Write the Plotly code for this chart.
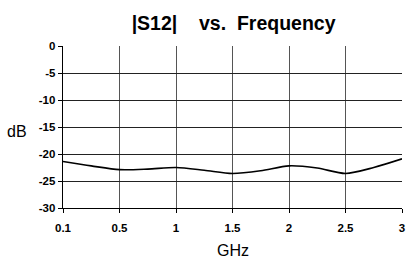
import plotly.graph_objects as go

freq_labels = ["0.1", "0.3", "0.5", "0.75", "1", "1.25", "1.5", "1.75", "2", "2.25", "2.5", "2.75", "3"]
s12_db = [-21.4, -22.2, -22.9, -22.8, -22.5, -23.0, -23.6, -23.1, -22.2, -22.6, -23.6, -22.5, -20.9]
x_tick_labels = ["0.1", "0.5", "1", "1.5", "2", "2.5", "3"]
y_ticks = [0, -5, -10, -15, -20, -25, -30]

font = "Liberation Sans, Arial, sans-serif"
title_text = "<b>|S12|\u00a0\u00a0\u00a0 vs.\u00a0 Frequency</b>"

fig = go.Figure()
fig.add_trace(go.Scatter(
    x=freq_labels, y=s12_db, mode="lines",
    line=dict(color="black", width=1.6, shape="spline", smoothing=0.8),
    showlegend=False, hoverinfo="skip",
))

fig.update_layout(
    width=408, height=260,
    margin=dict(l=63, r=6, t=46, b=52, autoexpand=False),
    paper_bgcolor="white", plot_bgcolor="white",
    font=dict(family=font, color="black"),
    title=dict(text=title_text, x=0.5725, xanchor="center",
               y=0.912, yanchor="middle", font=dict(size=19.5, family=font, color="black")),
)
fig.update_xaxes(
    type="category", categoryorder="array", categoryarray=freq_labels,
    range=[0, len(freq_labels) - 1], automargin=False,
    tickmode="array", tickvals=x_tick_labels, ticktext=x_tick_labels,
    showgrid=True, gridcolor="#555555", gridwidth=1,
    showline=True, linecolor="black", linewidth=1.3, mirror=False,
    ticks="outside", ticklen=4, tickcolor="black", ticklabelstandoff=5,
    tickfont=dict(size=11.5, family=font, color="black", weight="bold"),
    zeroline=False,
)
fig.update_yaxes(
    range=[-30, 0], tickmode="array", tickvals=y_ticks, automargin=False,
    ticktext=[str(v) for v in y_ticks],
    showgrid=True, gridcolor="#222222", gridwidth=1,
    showline=True, linecolor="black", linewidth=1.3,
    ticks="outside", ticklen=4, tickcolor="black",
    tickfont=dict(size=11.5, family=font, color="black", weight="bold"),
    zeroline=False,
)
fig.add_annotation(text="dB", xref="paper", yref="paper", x=-0.135, y=0.47,
                   showarrow=False, xanchor="center", yanchor="middle",
                   font=dict(size=16, family=font, color="black"))
fig.add_annotation(text="GHz", xref="paper", yref="paper", x=0.5, y=-0.26,
                   showarrow=False, xanchor="center", yanchor="middle",
                   font=dict(size=16, family=font, color="black"))
fig.write_html("out.html", config={"displayModeBar": False, "staticPlot": True})

with open("out.html", "r", encoding="utf-8") as f:
    html = f.read()
html = html.replace("<body>", '<body style="margin:0;padding:0;overflow:hidden">', 1)
with open("out.html", "w", encoding="utf-8") as f:
    f.write(html)
